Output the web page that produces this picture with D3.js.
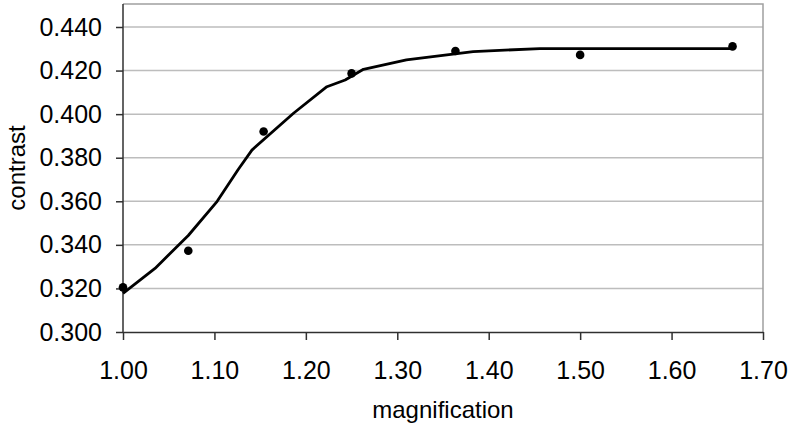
<!DOCTYPE html>
<html>
<head>
<meta charset="utf-8">
<script src="https://cdn.jsdelivr.net/npm/d3@7"></script>
<style>
  html, body { margin: 0; padding: 0; background: #fff; }
  svg { display: block; font-family: "Liberation Sans", Arial, sans-serif; }
</style>
</head>
<body>
<svg id="chart"></svg>
<script>
// measured points
const magnification = [1.0000, 1.0714, 1.1538, 1.2500, 1.3636, 1.5000, 1.6667];
const contrast = [0.3205, 0.3373, 0.3920, 0.4187, 0.4290, 0.4272, 0.4311];

// fitted curve
const fitX = [1.000, 1.035, 1.0714, 1.103, 1.126, 1.141, 1.1865, 1.223, 1.243, 1.263, 1.310, 1.383, 1.456, 1.6667];
const fitY = [0.3177, 0.3292, 0.3443, 0.3600, 0.3746, 0.3835, 0.4004, 0.4126, 0.4157, 0.4206, 0.4249, 0.4287, 0.4301, 0.4301];

const xTicks = [1.0, 1.1, 1.2, 1.3, 1.4, 1.5, 1.6, 1.7];
const yTicks = [0.30, 0.32, 0.34, 0.36, 0.38, 0.40, 0.42, 0.44];

const width = 790;
const height = 428;
const plotLeft = 123, plotRight = 763, plotTop = 4, plotBottom = 332;

const x = d3.scaleLinear().domain([1.0, 1.7]).range([plotLeft, plotRight]);
const y = d3.scaleLinear().domain([0.30, 0.44]).range([plotBottom, 27]);

const svg = d3.select("#chart")
  .attr("width", width)
  .attr("height", height)
  .attr("viewBox", [0, 0, width, height]);

// gridlines
svg.append("g")
  .selectAll("line")
  .data(yTicks.slice(1))
  .join("line")
  .attr("x1", plotLeft).attr("x2", plotRight)
  .attr("y1", d => y(d)).attr("y2", d => y(d))
  .attr("stroke", "#bdbdbd")
  .attr("stroke-width", 1.5);

// top + right border
svg.append("path")
  .attr("d", `M${plotLeft},${plotTop}H${plotRight}V${plotBottom}`)
  .attr("fill", "none")
  .attr("stroke", "#a0a0a0")
  .attr("stroke-width", 1.5);

const yAxis = svg.append("g")
  .attr("transform", `translate(${plotLeft},0)`)
  .call(d3.axisLeft(y).tickValues(yTicks).tickFormat(d3.format(".3f")).tickSize(7).tickPadding(14).tickSizeOuter(0));

const xAxis = svg.append("g")
  .attr("transform", `translate(0,${plotBottom})`)
  .call(d3.axisBottom(x).tickValues(xTicks).tickFormat(d3.format(".2f")).tickSize(8).tickPadding(21).tickSizeOuter(0));

[yAxis, xAxis].forEach(g => {
  g.select(".domain").attr("stroke", "#303030").attr("stroke-width", 1.5);
  g.selectAll(".tick line").attr("stroke", "#303030").attr("stroke-width", 1.5);
  g.selectAll("text").attr("fill", "#000").attr("font-size", 25).attr("font-family", "Liberation Sans, Arial, sans-serif");
});
yAxis.select(".domain").attr("d", `M0,${plotTop}V${plotBottom}`);

// axis titles
svg.append("text")
  .attr("x", (plotLeft + plotRight) / 2)
  .attr("y", 418)
  .attr("text-anchor", "middle")
  .attr("font-size", 24)
  .text("magnification");

svg.append("text")
  .attr("transform", `translate(25,${(plotTop + plotBottom) / 2}) rotate(-90)`)
  .attr("text-anchor", "middle")
  .attr("font-size", 24)
  .text("contrast");

// fit line
const line = d3.line()
  .x(d => x(d[0]))
  .y(d => y(d[1]));

svg.append("path")
  .datum(d3.zip(fitX, fitY))
  .attr("d", line)
  .attr("fill", "none")
  .attr("stroke", "#000")
  .attr("stroke-width", 2.8)
  .attr("stroke-linejoin", "round");

// data points
svg.append("g")
  .selectAll("circle")
  .data(d3.zip(magnification, contrast))
  .join("circle")
  .attr("cx", d => x(d[0]))
  .attr("cy", d => y(d[1]))
  .attr("r", 4.3)
  .attr("fill", "#000");
</script>
</body>
</html>
